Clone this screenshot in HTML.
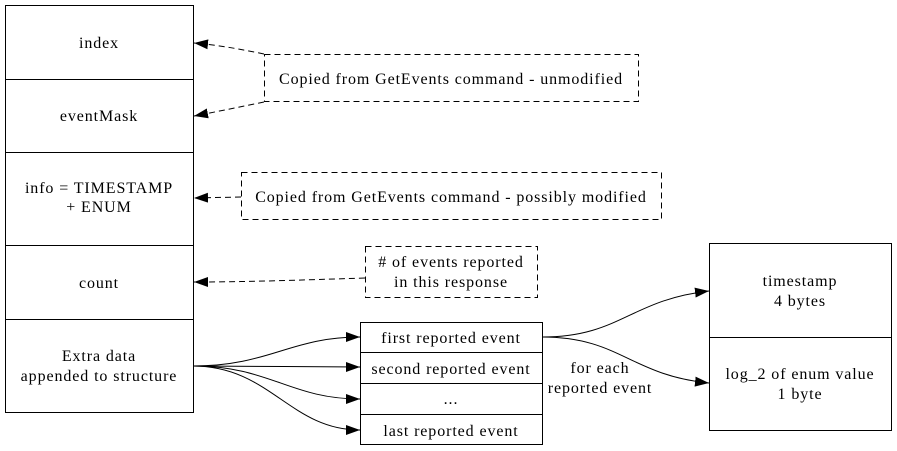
<html><body style="margin:0;background:#fff">
<svg width="897" height="451" xmlns="http://www.w3.org/2000/svg" style="font-family:'Liberation Serif',serif;font-size:16px;letter-spacing:0.9px">
<defs><marker id="a" markerWidth="14" markerHeight="10" refX="14" refY="5" orient="auto" markerUnits="userSpaceOnUse"><path d="M0,0 L14,5 L0,10 z" fill="#000"/></marker></defs>
<g fill="none" stroke="#000" stroke-width="1">
<rect x="5.5" y="5.5" width="188" height="407"/>
<line x1="5" y1="79.5" x2="193" y2="79.5"/><line x1="5" y1="152.5" x2="193" y2="152.5"/>
<line x1="5" y1="245.5" x2="193" y2="245.5"/><line x1="5" y1="319.5" x2="193" y2="319.5"/>
<g stroke-dasharray="6,4">
<rect x="264.5" y="54.5" width="374" height="47"/>
<rect x="241.5" y="172.5" width="420" height="47"/>
<rect x="365.5" y="246.5" width="172" height="51"/>
<path d="M264,54 C230,47 215,45 194,43" marker-end="url(#a)"/>
<path d="M264,102 C230,109 215,112 194,116" marker-end="url(#a)"/>
<path d="M241,197 L194,198" marker-end="url(#a)"/>
<path d="M365,278 C300,280 250,282 194,282" marker-end="url(#a)"/>
</g>
<rect x="360.5" y="322.5" width="182" height="122"/>
<line x1="360" y1="352.5" x2="542" y2="352.5"/><line x1="360" y1="383.5" x2="542" y2="383.5"/><line x1="360" y1="414.5" x2="542" y2="414.5"/>
<rect x="709.5" y="243.5" width="182" height="187"/>
<line x1="709" y1="337.5" x2="891" y2="337.5"/>
<path d="M193,366 C270,366 290,337 360,337" marker-end="url(#a)"/>
<path d="M193,366 C270,366 290,367 360,367" marker-end="url(#a)"/>
<path d="M193,366 C270,366 290,399 360,399" marker-end="url(#a)"/>
<path d="M193,366 C270,366 290,430 360,430" marker-end="url(#a)"/>
<path d="M542,337 C620,337 630,300 709,291" marker-end="url(#a)"/>
<path d="M542,337 C620,337 630,375 709,383" marker-end="url(#a)"/>
</g>
<g text-anchor="middle">
<text x="99" y="48">index</text>
<text x="99" y="121">eventMask</text>
<text x="99" y="193">info = TIMESTAMP</text><text x="99" y="212">+ ENUM</text>
<text x="99" y="288">count</text>
<text x="99" y="361">Extra data</text><text x="99" y="381">appended to structure</text>
<text x="451" y="84">Copied from GetEvents command - unmodified</text>
<text x="451" y="202">Copied from GetEvents command - possibly modified</text>
<text x="451" y="267"># of events reported</text><text x="451" y="287">in this response</text>
<text x="451" y="343">first reported event</text>
<text x="451" y="374">second reported event</text>
<text x="451" y="404">...</text>
<text x="451" y="436">last reported event</text>
<text x="600" y="373">for each</text><text x="600" y="393">reported event</text>
<text x="800" y="286">timestamp</text><text x="800" y="306">4 bytes</text>
<text x="800" y="379">log_2 of enum value</text><text x="800" y="399">1 byte</text>
</g>
</svg>
</body></html>
